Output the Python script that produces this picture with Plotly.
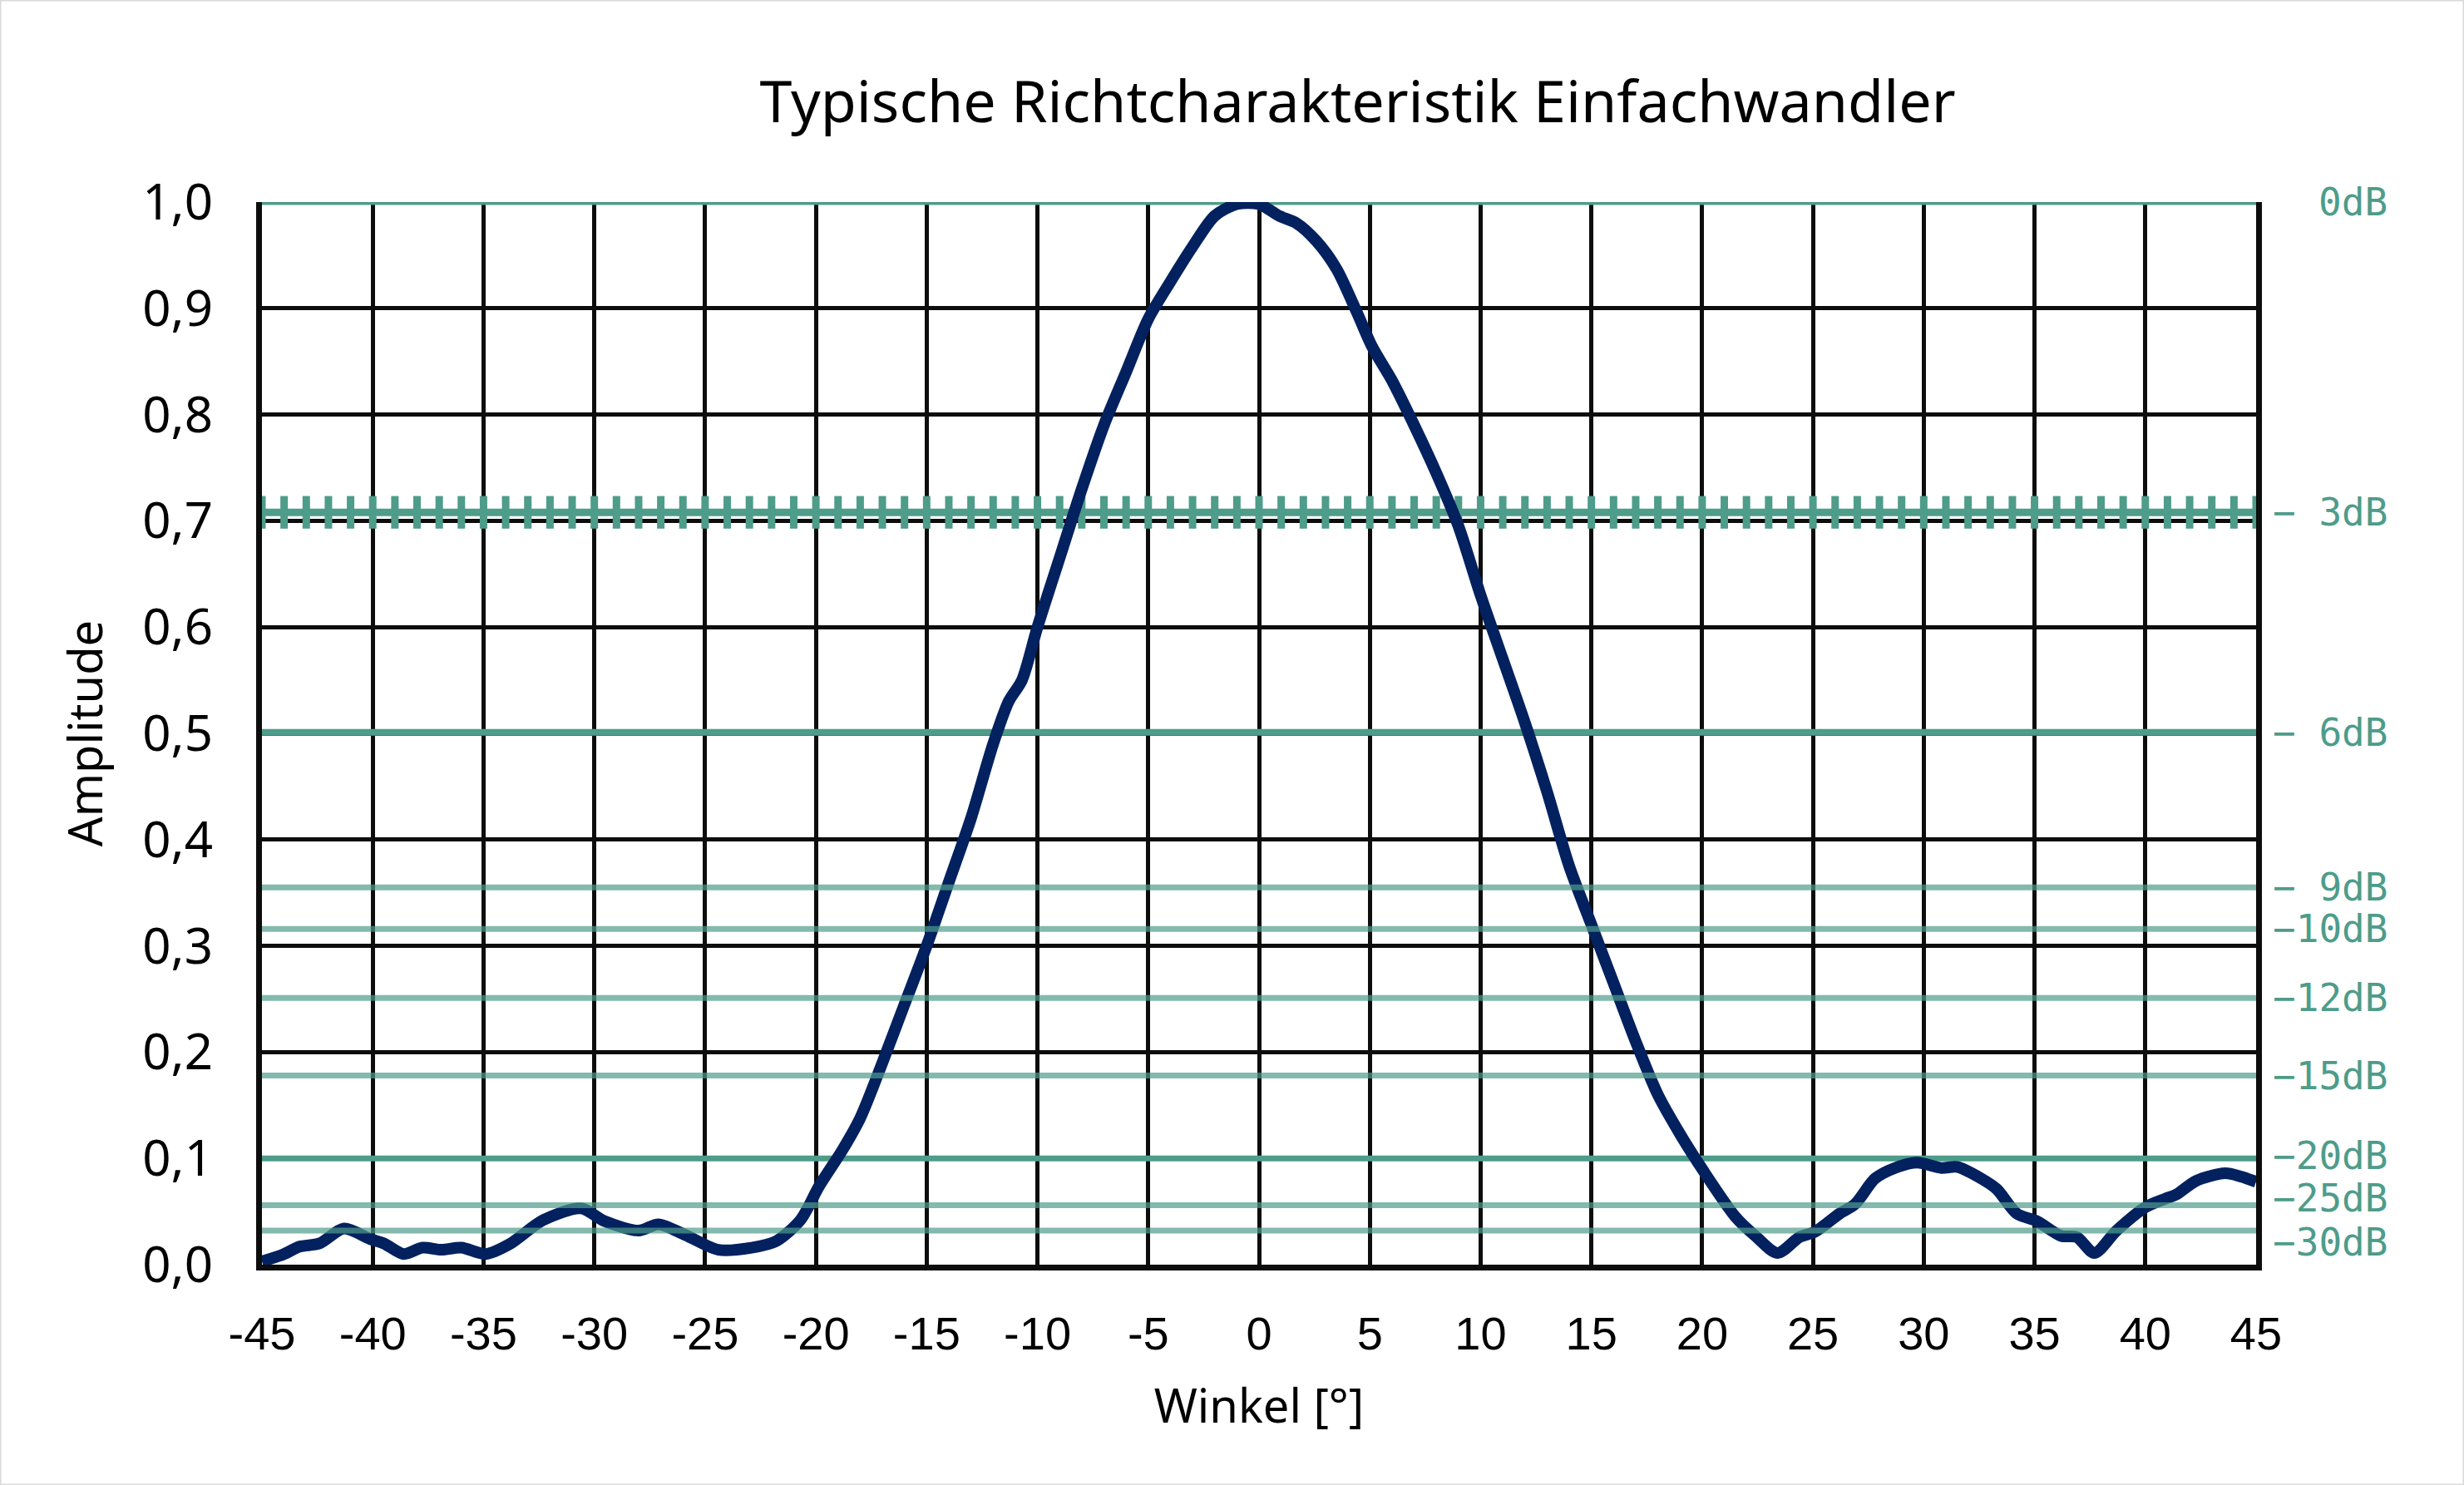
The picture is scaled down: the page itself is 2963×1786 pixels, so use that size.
import plotly.graph_objects as go

# ---- data ----
angle_deg = [-45, -44, -43.3, -42.4, -41.3, -40.1, -39.5, -38.6, -37.75, -36.9, -36.0, -34.9,
             -33.85, -32.3, -30.6, -29.55, -28.0, -27.1, -25.9, -24.4, -22.9, -21.8, -20.7,
             -19.85, -18.8, -18.0, -17.0, -16.0, -15.0, -14.0, -13.0, -12.0, -11.3, -10.7,
             -10.0, -9.0, -8.0, -7.0, -6.0, -5.0, -4.0, -3.0, -2.0, -1.0, 0.0, 0.9, 1.7, 2.6,
             3.5, 4.4, 5.1, 6.0, 7.0, 8.0, 9.0, 10.0, 11.0, 12.0, 13.0, 14.0, 15.0, 16.0, 17.0,
             18.0, 19.0, 20.0, 21.5, 22.4, 23.4, 24.4, 25.1, 26.2, 26.9, 27.8, 28.7, 29.7, 30.8,
             31.5, 32.6, 33.3, 34.2, 35.1, 36.2, 36.9, 37.7, 38.7, 40.0, 40.9, 41.4, 42.3, 43.6,
             44.3, 45.0]
amplitude = [0.003, 0.010, 0.017, 0.020, 0.034, 0.024, 0.020, 0.010, 0.016, 0.014, 0.016, 0.010,
             0.019, 0.042, 0.053, 0.041, 0.032, 0.038, 0.028, 0.014, 0.016, 0.022, 0.042,
             0.074, 0.108, 0.138, 0.19, 0.245, 0.30, 0.36, 0.42, 0.49, 0.53, 0.55,
             0.60, 0.665, 0.73, 0.79, 0.84, 0.89, 0.925, 0.958, 0.987, 0.998, 0.998, 0.987, 0.980, 0.963,
             0.937, 0.897, 0.864, 0.832, 0.79, 0.745, 0.695, 0.63, 0.57, 0.51, 0.445, 0.375, 0.32, 0.265, 0.21,
             0.16, 0.123, 0.09, 0.045, 0.027, 0.011, 0.026, 0.031, 0.048, 0.057, 0.081, 0.091, 0.096, 0.091,
             0.092, 0.081, 0.071, 0.048, 0.041, 0.027, 0.026, 0.011, 0.032, 0.054, 0.062, 0.066, 0.079, 0.086,
             0.083, 0.078]

db_amps = [1.0, 0.708, 0.501, 0.355, 0.316, 0.251, 0.178, 0.1, 0.056, 0.032]
db_labels = ["0dB", "− 3dB", "− 6dB", "− 9dB", "−10dB", "−12dB", "−15dB", "−20dB", "−25dB", "−30dB"]
db_strong = [True, True, True, False, False, False, False, True, False, False]
label_shift = [0, 0, 0, 0, 0, 0, 0, 3, 8, -14]

x_ticks = list(range(-45, 46, 5))
y_ticks = [i / 10 for i in range(0, 11)]

TEAL = "#4E9C8A"
TEAL_LIGHT = "rgba(78,156,138,0.7)"
NAVY = "#03215F"
GRID = "#0D0D0D"

W, H = 2963, 1786
L, R, T, B = 315, 250, 243, 265
PW, PH = W - L - R, H - T - B

fig = go.Figure()

# strong reference lines (below curve)
for i, (a, strong) in enumerate(zip(db_amps, db_strong)):
    if strong and i != 1:
        fig.add_trace(go.Scatter(x=[-45, 45], y=[a, a], mode="lines",
                                 line=dict(color=TEAL, width=8 if i == 2 else 7),
                                 hoverinfo="skip", showlegend=False))

# 3 dB line with cross ticks
fig.add_trace(go.Scatter(x=[-45, 45], y=[db_amps[1], db_amps[1]], mode="lines",
                         line=dict(color=TEAL, width=9), hoverinfo="skip", showlegend=False))
fig.add_trace(go.Scatter(x=list(range(-45, 46)), y=[db_amps[1]] * 91, mode="markers",
                         marker=dict(symbol="line-ns", size=28, line=dict(color=TEAL, width=9)),
                         cliponaxis=False, hoverinfo="skip", showlegend=False))

# curve
fig.add_trace(go.Scatter(x=angle_deg, y=amplitude, mode="lines",
                         line=dict(color=NAVY, width=14, shape="spline", smoothing=0.8),
                         showlegend=False))

# light reference lines (semi-transparent, above curve)
for a, strong in zip(db_amps, db_strong):
    if not strong:
        fig.add_trace(go.Scatter(x=[-45, 45], y=[a, a], mode="lines",
                                 line=dict(color=TEAL_LIGHT, width=7),
                                 hoverinfo="skip", showlegend=False))

annotations = []
for a, lab, sh in zip(db_amps, db_labels, label_shift):
    annotations.append(dict(x=1, xref="paper", y=a, yref="y", text=lab, showarrow=False,
                            xanchor="right", yanchor="middle", xshift=160, yshift=sh,
                            font=dict(family="DejaVu Sans Mono", size=46, color=TEAL)))

fig.update_layout(
    width=W, height=H,
    margin=dict(l=L, r=R, t=T, b=B),
    paper_bgcolor="white", plot_bgcolor="white",
    separators=",.",
    title=dict(text="Typische Richtcharakteristik Einfachwandler", x=1628 / W, xref="paper",
               xanchor="center", y=1 - 122 / H, yanchor="middle",
               font=dict(family="Noto Sans", size=70, color="#000000")),
    xaxis=dict(range=[-45, 45], tickvals=x_ticks, ticktext=[str(v) for v in x_ticks],
               showgrid=True, gridcolor=GRID, gridwidth=5, zeroline=False,
               showline=True, linecolor=GRID, linewidth=7, mirror=False,
               ticks="", ticklabelstandoff=28,
               tickfont=dict(family="Liberation Sans", size=56, color="#000000"),
               title=dict(text="Winkel [°]", standoff=40,
                          font=dict(family="Noto Sans", size=56, color="#000000"))),
    yaxis=dict(range=[0, 1], tickvals=y_ticks, tickformat=".1f",
               showgrid=True, gridcolor=GRID, gridwidth=5, zeroline=False,
               showline=True, linecolor=GRID, linewidth=7, mirror=True,
               ticks="", ticklabelstandoff=40,
               tickfont=dict(family="Noto Sans", size=60, color="#000000"),
               title=dict(text="Amplitude", standoff=32,
                          font=dict(family="Noto Sans", size=56, color="#000000"))),
    annotations=annotations,
    shapes=[dict(type="rect", xref="paper", yref="paper",
                 x0=(0.5 - L) / PW, x1=(W - 0.5 - L) / PW,
                 y0=(H - B - (H - 0.5)) / PH, y1=(H - B - 0.5) / PH,
                 line=dict(color="#D9D9D9", width=2), layer="below")],
)

fig.write_html("out.html")
